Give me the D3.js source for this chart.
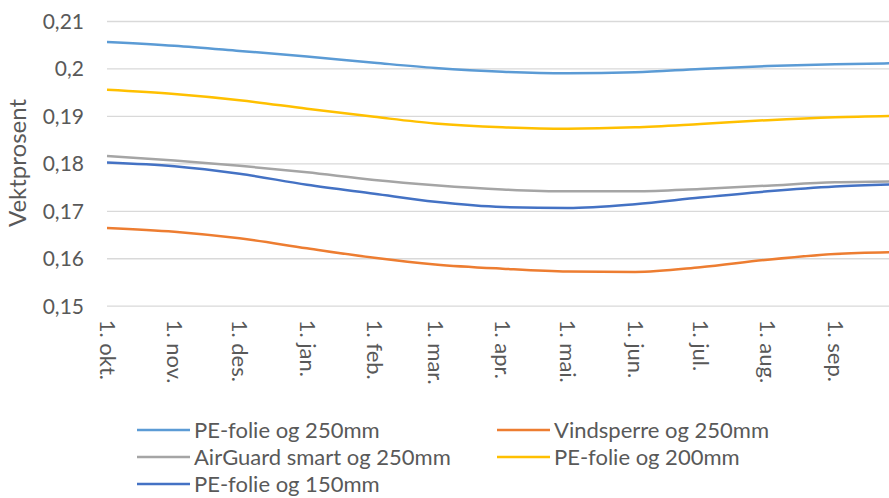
<!DOCTYPE html>
<html>
<head>
<meta charset="utf-8">
<script src="https://cdn.jsdelivr.net/npm/d3@7"></script>
<style>
  html, body { margin: 0; padding: 0; background: #fff; }
  svg { display: block; font-family: Lato, "Open Sans", sans-serif; }
</style>
</head>
<body>
<svg id="chart" width="889" height="498"></svg>
<script>
// ---- data ----
const dates = ["2018-10-01","2018-11-01","2018-12-01","2019-01-01","2019-02-01","2019-03-01",
               "2019-04-01","2019-05-01","2019-06-01","2019-07-01","2019-08-01","2019-09-01","2019-09-30"];
const peFolie250   = [0.2056,0.2048,0.2037,0.2025,0.2012,0.2001,0.1993,0.1990,0.1992,0.1999,0.2005,0.2009,0.2011];
const vindsperre250= [0.1664,0.1656,0.1642,0.1621,0.1601,0.1587,0.1578,0.1572,0.1571,0.1581,0.1597,0.1609,0.1613];
const airGuard250  = [0.18155,0.1806,0.1795,0.1781,0.1765,0.1754,0.1745,0.1741,0.1741,0.1746,0.1753,0.1760,0.1762];
const peFolie200   = [0.1955,0.1946,0.1933,0.1915,0.1898,0.1884,0.1876,0.1873,0.1876,0.1883,0.1891,0.1897,0.1900];
const peFolie150   = [0.1802,0.1794,0.1778,0.1755,0.1736,0.1719,0.1708,0.1706,0.1714,0.1728,0.1741,0.1751,0.1756];
const seriesNames  = ["PE-folie og 250mm","Vindsperre og 250mm","AirGuard smart og 250mm","PE-folie og 200mm","PE-folie og 150mm"];
const seriesColors = ["#5B9BD5","#ED7D31","#A5A5A5","#FFC000","#4472C4"];
const yTicks       = [0.15,0.16,0.17,0.18,0.19,0.20,0.21];
const yTickLabels  = ["0,15","0,16","0,17","0,18","0,19","0,2","0,21"];
const xTickDates   = dates.slice(0,12);
const xTickLabels  = ["1. okt.","1. nov.","1. des.","1. jan.","1. feb.","1. mar.","1. apr.","1. mai.","1. jun.","1. jul.","1. aug.","1. sep."];
const yTitle = "Vektprosent";

// ---- chart ----
(function () {
const parse = d3.utcParse("%Y-%m-%d");
const svg = d3.select("#chart");
const left = 107, plotTop = 21, plotBottom = 305.7;
const x = d3.scaleUtc().domain([parse("2018-10-01"), parse("2019-10-01")]).range([left, left + 365*2.173]);
const y = d3.scaleLinear().domain([0.15, 0.21]).range([plotBottom, plotTop]);
const textColor = "#595959";

// y axis + gridlines
const yAxis = d3.axisLeft(y).tickValues(yTicks)
  .tickFormat((d,i) => yTickLabels[i])
  .tickSizeInner(-(889 - left)).tickSizeOuter(0).tickPadding(23);
const gy = svg.append("g").attr("transform", `translate(${left},0)`).call(yAxis);
gy.select(".domain").remove();
gy.selectAll(".tick line").attr("stroke", "#D9D9D9").attr("stroke-width", 1.3);
gy.selectAll(".tick text").attr("fill", textColor).style("font-size", "21px")
  .style("font-family", "Lato").attr("dy", "0.35em");

// x axis labels
const xAxis = d3.axisBottom(x).tickValues(xTickDates.map(parse))
  .tickFormat((d,i) => xTickLabels[i]).tickSize(0).tickPadding(0);
const gx = svg.append("g").attr("transform", `translate(0,${plotBottom})`).call(xAxis);
gx.select(".domain").remove();
gx.selectAll(".tick text")
  .attr("fill", textColor).style("font-size", "22px").style("font-family", "Lato")
  .attr("text-anchor", "start").attr("y", 0).attr("dy", "0.35em")
  .attr("transform", "translate(0,14) rotate(90)");

// lines
const allSeries = [peFolie250, vindsperre250, airGuard250, peFolie200, peFolie150];
const line = d3.line().x(d => x(d[0])).y(d => y(d[1])).curve(d3.curveMonotoneX);
allSeries.forEach((vals, i) => {
  svg.append("path")
    .datum(dates.map((dt, j) => [parse(dt), vals[j]]))
    .attr("fill", "none").attr("stroke", seriesColors[i])
    .attr("stroke-width", 2.5).attr("stroke-linejoin", "round")
    .attr("d", line);
});

// y title
svg.append("text")
  .attr("transform", "translate(18,163) rotate(-90)")
  .attr("text-anchor", "middle").attr("dy", "0.35em")
  .attr("fill", textColor).style("font-size", "24px").style("font-family", "Lato")
  .text(yTitle);

// legend
const legPos = [[137,430],[497,430],[137,457],[497,457],[137,484]];
const lg = svg.append("g");
seriesNames.forEach((name, i) => {
  const [lx, ly] = legPos[i];
  lg.append("line").attr("x1", lx).attr("x2", lx + 53).attr("y1", ly).attr("y2", ly)
    .attr("stroke", seriesColors[i]).attr("stroke-width", 2.5);
  lg.append("text").attr("x", lx + 57).attr("y", ly).attr("dy", "0.35em")
    .attr("fill", textColor).style("font-size", "22px").style("font-family", "Lato")
    .text(name);
});
})();
</script>
</body>
</html>
